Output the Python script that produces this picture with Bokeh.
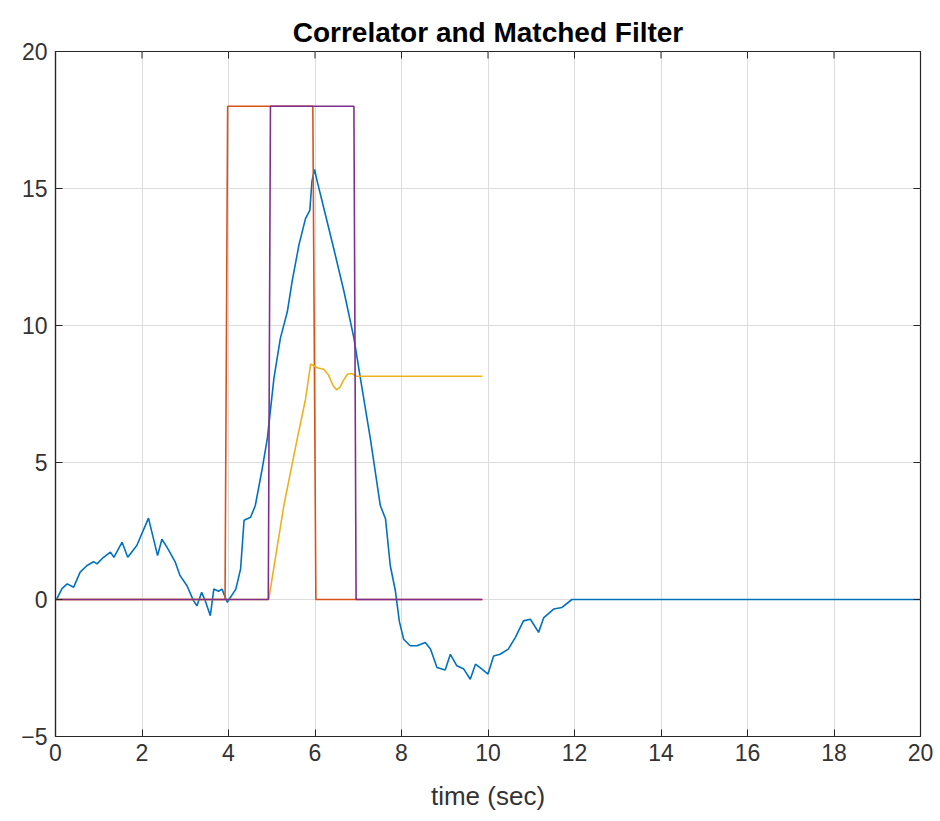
import math
from bokeh.plotting import figure
from bokeh.models import FixedTicker, Range1d
from bokeh.embed import file_html
from bokeh.resources import INLINE

# Correlator output (blue)
t_corr = [0, 0.04, 0.15, 0.27, 0.42, 0.57, 0.73, 0.88, 0.96, 1.11, 1.27, 1.35, 1.54, 1.67, 1.88,
          2.15, 2.36, 2.46, 2.58, 2.77, 2.88, 3.04, 3.19, 3.27, 3.38, 3.46, 3.58, 3.66, 3.77, 3.85,
          3.97, 4.17, 4.28, 4.36, 4.51, 4.62, 4.78, 4.9, 5.05, 5.2, 5.36, 5.47, 5.63, 5.78, 5.88,
          5.93, 5.99, 6.05, 6.24, 6.43, 6.67, 6.9, 7.05, 7.28, 7.51, 7.63, 7.74, 7.86, 7.95, 8.05,
          8.2, 8.36, 8.55, 8.67, 8.82, 9.01, 9.13, 9.28, 9.44, 9.59, 9.71, 9.86, 10.0, 10.13, 10.28,
          10.47, 10.63, 10.82, 10.98, 11.17, 11.29, 11.52, 11.71, 11.94, 20]
y_corr = [0, 0.05, 0.4, 0.57, 0.45, 1.0, 1.24, 1.38, 1.3, 1.54, 1.73, 1.54, 2.09, 1.54, 1.97,
          2.97, 1.6, 2.2, 1.9, 1.36, 0.87, 0.5, -0.04, -0.23, 0.26, -0.04, -0.59, 0.38, 0.3, 0.38,
          -0.1, 0.38, 1.12, 2.89, 3.0, 3.43, 4.78, 5.9, 8.07, 9.54, 10.5, 11.6, 12.95, 13.9, 14.2,
          15.27, 15.7, 15.27, 14.05, 12.83, 11.24, 9.54, 8.07, 5.87, 3.43, 2.95, 1.24, 0.3, -0.8, -1.45,
          -1.69, -1.69, -1.57, -1.81, -2.48, -2.57, -2.0, -2.42, -2.54, -2.91, -2.36, -2.54, -2.72, -2.06, -2.0,
          -1.81, -1.39, -0.78, -0.72, -1.2, -0.66, -0.35, -0.29, 0.0, 0.0]

# Input pulse (orange)
t_pulse = [0, 3.92, 3.98, 5.95, 6.02, 9.87]
y_pulse = [0, 0, 18, 18, 0, 0]

# Matched filter output (yellow)
t_mf = [0, 4.93, 5.28, 5.59, 5.78, 5.9, 6.05, 6.2, 6.31, 6.42, 6.5, 6.58, 6.65, 6.75, 6.85, 6.95, 9.87]
y_mf = [0, 0, 3.43, 5.87, 7.3, 8.6, 8.46, 8.4, 8.2, 7.8, 7.65, 7.75, 7.98, 8.22, 8.25, 8.15, 8.15]

# Delayed pulse (purple)
t_delay = [0, 4.92, 4.97, 6.9, 6.95, 9.87]
y_delay = [0, 0, 18, 18, 0, 0]

x_ticks = [0, 2, 4, 6, 8, 10, 12, 14, 16, 18, 20]
y_ticks = [-5, 0, 5, 10, 15, 20]

x_min, x_max = x_ticks[0], x_ticks[-1]
y_min, y_max = y_ticks[0], y_ticks[-1]

p = figure(width=940, height=821, output_backend="svg", toolbar_location=None,
           x_range=Range1d(x_min, x_max), y_range=Range1d(y_min, y_max),
           title="Correlator and Matched Filter",
           min_border_left=55, min_border_right=20, min_border_top=51, min_border_bottom=85,
           x_axis_label="time (sec)")

p.title.align = "center"
p.title.text_font = "Liberation Sans"
p.title.text_font_size = "28px"
p.title.text_font_style = "bold"
p.title.text_color = "#000000"
p.title.standoff = 8

p.outline_line_color = "#262626"
p.outline_line_width = 1.2
p.background_fill_color = "white"
p.border_fill_color = "white"

for ax in (p.xaxis[0], p.yaxis[0]):
    ax.major_tick_in = 7
    ax.major_tick_out = 0
    ax.minor_tick_in = 0
    ax.minor_tick_out = 0
    ax.axis_line_color = "#262626"
    ax.axis_line_width = 1.2
    ax.major_tick_line_color = "#262626"
    ax.major_label_text_font = "Liberation Sans"
    ax.major_label_text_font_size = "23px"
    ax.major_label_text_color = "#333333"

p.xaxis[0].ticker = FixedTicker(ticks=x_ticks)
p.yaxis[0].ticker = FixedTicker(ticks=y_ticks)
p.xaxis[0].major_label_standoff = 7
p.yaxis[0].major_label_standoff = 8
p.xaxis[0].axis_label_text_font = "Liberation Sans"
p.xaxis[0].axis_label_text_font_size = "26px"
p.xaxis[0].axis_label_text_font_style = "normal"
p.xaxis[0].axis_label_text_color = "#333333"
p.xaxis[0].axis_label_standoff = 17

p.xgrid.ticker = FixedTicker(ticks=x_ticks)
p.ygrid.ticker = FixedTicker(ticks=y_ticks)
p.grid.grid_line_color = "#dcdcdc"
p.grid.grid_line_width = 1

lw = 1.6
p.line(t_corr, y_corr, line_color="#0072BD", line_width=lw)
p.line(t_pulse, y_pulse, line_color="#D95319", line_width=lw)
p.line(t_mf, y_mf, line_color="#EDB120", line_width=lw)
p.line(t_delay, y_delay, line_color="#7E2F8E", line_width=lw)

# tick marks on top and right edges of the box
p.ray(x=x_ticks, y=[y_max] * len(x_ticks), length=7, length_units="screen",
      angle=-math.pi / 2, line_color="#262626", line_width=1)
p.ray(x=[x_max] * len(y_ticks), y=y_ticks, length=7, length_units="screen",
      angle=math.pi, line_color="#262626", line_width=1)

open("out.html", "w").write(file_html(p, INLINE))
